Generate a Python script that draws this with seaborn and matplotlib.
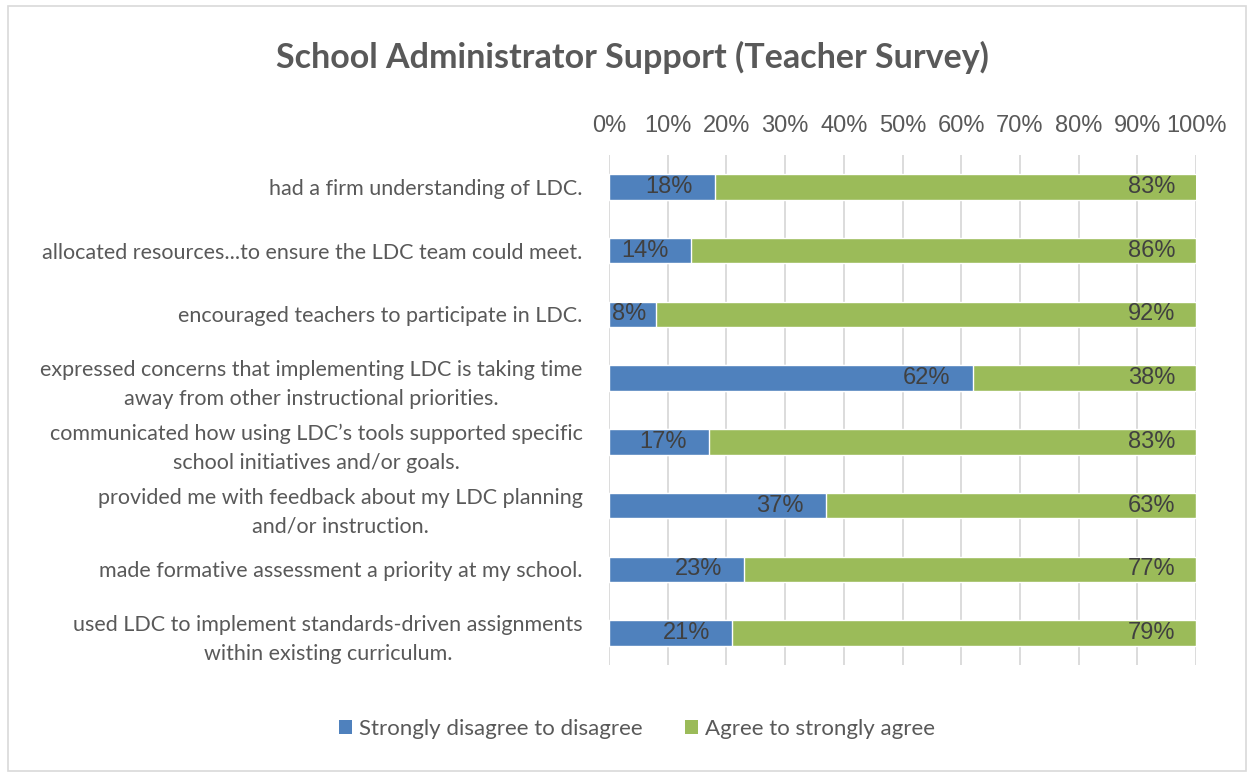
import matplotlib
matplotlib.use("Agg")
import matplotlib.pyplot as plt
import seaborn as sns
import pandas as pd
from matplotlib.patches import Rectangle, Patch

categories = [
    "had a firm understanding of LDC.",
    "allocated resources...to ensure the LDC team could meet.",
    "encouraged teachers to participate in LDC.",
    "expressed concerns that implementing LDC is taking time\naway from other instructional priorities.",
    "communicated how using LDC\u2019s tools supported specific\nschool initiatives and/or goals.",
    "provided me with feedback about my LDC planning\nand/or instruction.",
    "made formative assessment a priority at my school.",
    "used LDC to implement standards-driven assignments\nwithin existing curriculum.",
]
disagree = [18, 14, 8, 62, 17, 37, 23, 21]
agree = [83, 86, 92, 38, 83, 63, 77, 79]
series_names = ["Strongly disagree to disagree", "Agree to strongly agree"]
x_ticks = [0, 10, 20, 30, 40, 50, 60, 70, 80, 90, 100]

BLUE = "#4F81BD"
GREEN = "#9BBB59"
TEXT = "#595959"
LABEL = "#404040"
LATO = ["Lato", "DejaVu Sans"]
NARROW = ["Liberation Sans Narrow", "Liberation Sans", "DejaVu Sans"]

sns.set_theme(style="white")
plt.rcParams["font.family"] = LATO

df = pd.DataFrame({"cat": categories, "dis": disagree, "agr": agree})
df["total"] = df["dis"] + df["agr"]

fig = plt.figure(figsize=(12.53, 7.74), dpi=100)
fig.patch.set_facecolor("white")
ax = fig.add_axes([609 / 1253, 1 - 665 / 774, (1196 - 609) / 1253, (665 - 155) / 774])

sns.barplot(data=df, x="total", y="cat", color=GREEN, saturation=1, width=0.4, ax=ax, orient="h")
sns.barplot(data=df, x="dis", y="cat", color=BLUE, saturation=1, width=0.4, ax=ax, orient="h")

ax.set_xlim(0, 100)
ax.set_xticks(x_ticks)
ax.set_xticklabels([f"{t}%" for t in x_ticks], family=NARROW, fontsize=17, color=TEXT)
ax.xaxis.tick_top()
ax.set_xlabel("")
ax.set_ylabel("")
ax.grid(axis="x", color="#d9d9d9", linewidth=1.3)
ax.grid(axis="y", visible=False)
ax.set_axisbelow(True)
for s in ax.spines.values():
    s.set_visible(False)
ax.tick_params(axis="x", length=0, pad=13)
ax.tick_params(axis="y", length=0, pad=19)
for lab in ax.get_yticklabels():
    lab.set_fontsize(15.5)
    lab.set_color(TEXT)
    lab.set_multialignment("center")
    lab.set_linespacing(1.55)
    lab.set_family(LATO)

for i, (d, a) in enumerate(zip(disagree, agree)):
    if d < 10:
        ax.annotate(f"{d}%", xy=(0, i), xytext=(2, 0), textcoords="offset points",
                    ha="left", va="center", fontsize=17, color=LABEL, family=NARROW)
    else:
        ax.annotate(f"{d}%", xy=(d, i), xytext=(-16, 0), textcoords="offset points",
                    ha="right", va="center", fontsize=17, color=LABEL, family=NARROW)
    ax.annotate(f"{a}%", xy=(min(d + a, 100), i), xytext=(-15, 0), textcoords="offset points",
                ha="right", va="center", fontsize=17, color=LABEL, family=NARROW)

fig.text(632 / 1253, 1 - 57 / 774, "School Administrator Support (Teacher Survey)",
         ha="center", va="center", fontsize=24.5, fontweight="bold", color=TEXT, family=LATO)

handles = [Patch(facecolor=BLUE, edgecolor="none"), Patch(facecolor=GREEN, edgecolor="none")]
fig.legend(handles, series_names, loc="center", bbox_to_anchor=(637 / 1253, 1 - 729 / 774),
           ncol=2, frameon=False, fontsize=16, handlelength=0.6, handleheight=0.6,
           handletextpad=0.3, columnspacing=1.9, labelcolor=TEXT)

fig.add_artist(Rectangle((8 / 1253, 1 - 771 / 774), 1238 / 1253, 765 / 774,
                         transform=fig.transFigure, fill=False, edgecolor="#d9d9d9", linewidth=1.2))

fig.savefig("out.png", dpi=100, facecolor="white")
